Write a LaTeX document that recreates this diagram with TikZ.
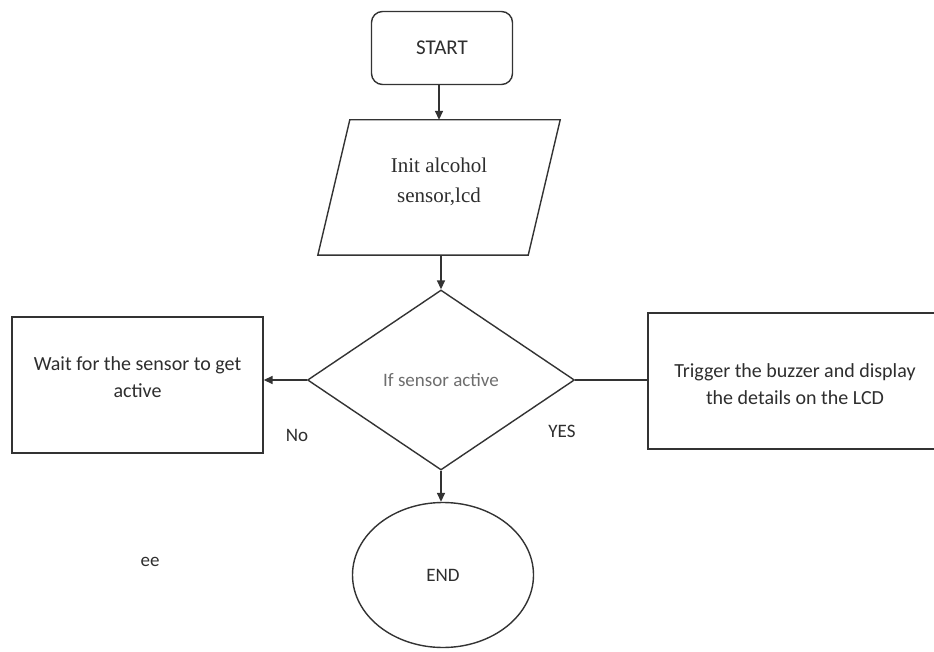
\documentclass[tikz,border=0pt]{standalone}
\usepackage{fontspec}
\setmainfont{Carlito}
\newfontfamily\serifinit{Liberation Serif}
\usepackage{tikz}
\usepackage{xcolor}
\usetikzlibrary{shapes.geometric,arrows.meta}
\definecolor{linecolorc}{HTML}{333333}
\definecolor{textc}{HTML}{2E2E2E}
\definecolor{faintc}{HTML}{6E6E6E}
\colorlet{linecolor}{linecolorc}
\colorlet{textcolor}{textc}
\tikzstyle{flowline} =[
    draw=linecolor,
    line width=1.6pt
    ]
\tikzstyle{flowarrow} =[
    flowline,
    -{Triangle[length=9pt,width=8pt]}
    ]
\tikzstyle{terminal} = [
    draw=linecolor,
    line width=1.4pt,
    rectangle,
    rounded corners=11pt,
    minimum width=141pt,
    minimum height=73pt,
    text=textcolor,
    font=\fontsize{21}{25}\selectfont
    ]
\tikzstyle{iotext} = [
    rectangle,
    minimum width=210pt,
    minimum height=135pt,
    align=center,
    text depth=14pt,
    text=textcolor,
    font=\serifinit\fontsize{21}{30}\selectfont
    ]
\tikzstyle{decision} = [
    draw=linecolor,
    line width=1.4pt,
    diamond,
    inner sep=0pt,
    minimum width=267pt,
    minimum height=180pt,
    text=faintc,
    font=\fontsize{19}{22}\selectfont
    ]
\tikzstyle{process} = [
    draw=linecolor,
    line width=1.4pt,
    rectangle,
    minimum height=136pt,
    align=center,
    text=textcolor,
    font=\fontsize{20}{27}\selectfont
    ]
\tikzstyle{label} = [
    text=textcolor,
    font=\fontsize{19}{22}\selectfont
    ]

\begin{document}
\begin{tikzpicture}[x=1pt,y=-1pt]
\useasboundingbox (0,0) rectangle (934,652);
\clip (0,0) rectangle (934,652);
\fill[white] (0,0) rectangle (934,652);

\node [terminal] (start) at (442,48) {START};
\node [iotext] (init) at (439,187.5) {Init alcohol\\sensor,lcd};
\draw [draw=linecolor, line width=1.4pt]
    ([xshift=16pt]init.north west) -- ([xshift=16pt]init.north east)
    -- ([xshift=-16pt]init.south east) -- ([xshift=-16pt]init.south west) -- cycle;
\node [decision] (check) at (441,380) {If sensor active};
\node [process, minimum width=251pt, text depth=16pt] (wait) at (137.5,385) {Wait for the sensor to get\\active};
\node [process, minimum width=294pt, text height=48pt] (trigger) at (795,381) {Trigger the buzzer and display\\the details on the LCD};
\node [draw=linecolor, line width=1.4pt, ellipse, minimum width=181pt,
    minimum height=145pt, text=textcolor, font=\fontsize{19}{22}\selectfont] (stop) at (443,575) {END};

% connectors
\draw [flowarrow] (start.south -| init.north) -- (init.north);
\draw [flowarrow] (init.south -| check.north) -- (check.north);
\draw [flowarrow] (check.west) -- (wait.east |- check.west);
\draw [flowline] (check.east) -- (trigger.west |- check.east);
\draw [flowarrow] (check.south) -- (check.south |- stop.north);

\node [label] (no) at (297,435) {No};
\node [label] (yes) at (562,431) {YES};
\node [label] (ee) at (150,562) {ee};
\end{tikzpicture}
\end{document}
